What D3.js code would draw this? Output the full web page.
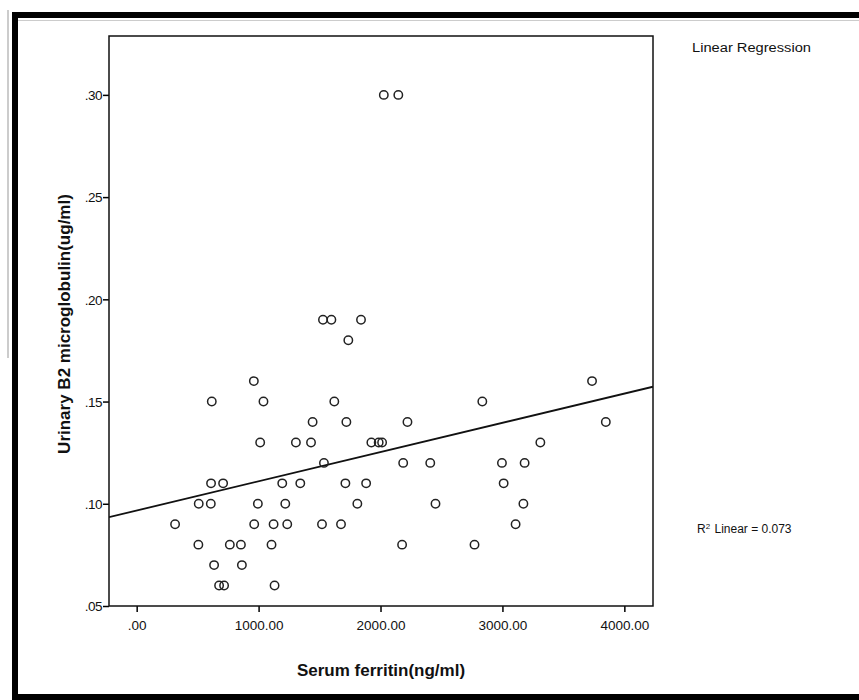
<!DOCTYPE html>
<html>
<head>
<meta charset="utf-8">
<script src="https://cdn.jsdelivr.net/npm/d3@7"></script>
<style>
  body { margin: 0; background: #fff; }
  svg { display: block; font-family: "Liberation Sans", Arial, sans-serif; }
</style>
</head>
<body>
<div id="chart"></div>
<script>
// serum ferritin (ng/ml) and urinary B2 microglobulin (ug/ml)
const ferritin = [
  2027, 2146,
  1528, 1597, 1840,
  1736,
  961, 3735,
  616, 1040, 1621, 2835,
  1443, 1720, 2221, 3848,
  1013, 1306, 1430, 1925, 1985, 2013, 3311,
  1536, 2186, 2408, 2996, 3182,
  610, 709, 1194, 1342, 1712, 1882, 3010,
  509, 608, 994, 1219, 1810, 2451, 3172,
  315, 964, 1123, 1235, 1520, 1676, 3108,
  506, 764, 855, 1106, 2177, 2771,
  635, 863,
  676, 717, 1131
]
const b2micro = [
  .30, .30,
  .19, .19, .19,
  .18,
  .16, .16,
  .15, .15, .15, .15,
  .14, .14, .14, .14,
  .13, .13, .13, .13, .13, .13, .13,
  .12, .12, .12, .12, .12,
  .11, .11, .11, .11, .11, .11, .11,
  .10, .10, .10, .10, .10, .10, .10,
  .09, .09, .09, .09, .09, .09, .09,
  .08, .08, .08, .08, .08, .08,
  .07, .07,
  .06, .06, .06
]
const xTicks = [0, 1000, 2000, 3000, 4000]
const yTicks = [.05, .10, .15, .20, .25, .30]
// fit line as drawn in the figure
const fitIntercept = 0.0967
const fitSlope = 0.0000143
const rSquared = '0.073'

const width = 859, height = 700
const plot = {left: 109, right: 653, top: 36, bottom: 606}

const svg = d3.select('#chart').append('svg')
  .attr('width', width)
  .attr('height', height)

// outer frame of the screenshot
svg.append('line').attr('x1', 8).attr('x2', 8).attr('y1', 10).attr('y2', 358)
  .attr('stroke', '#999').attr('stroke-width', 1)
svg.append('rect').attr('x', 12).attr('y', 12).attr('width', width).attr('height', 6).attr('fill', '#000')
svg.append('rect').attr('x', 12).attr('y', 12).attr('width', 6).attr('height', height).attr('fill', '#000')
svg.append('rect').attr('x', 12).attr('y', 694).attr('width', width).attr('height', 6).attr('fill', '#000')
svg.append('line').attr('x1', 18).attr('x2', width).attr('y1', 20.5).attr('y2', 20.5)
  .attr('stroke', '#ccc').attr('stroke-width', 1)

const x = d3.scaleLinear().domain([-227, 4235]).range([plot.left, plot.right])
const y = d3.scaleLinear().domain([0.05, 0.3288]).range([plot.bottom, plot.top])

const noLeadZero = f => v => d3.format(f)(v).replace(/^0\./, '.')

const xAxis = svg.append('g')
  .attr('transform', `translate(0,${plot.bottom})`)
  .call(d3.axisBottom(x).tickValues(xTicks).tickFormat(noLeadZero('.2f')).tickSize(6).tickSizeOuter(0))
const yAxis = svg.append('g')
  .attr('transform', `translate(${plot.left},0)`)
  .call(d3.axisLeft(y).tickValues(yTicks).tickFormat(noLeadZero('.2f')).tickSize(6).tickSizeOuter(0))

for (let ax of [xAxis, yAxis]) {
  ax.select('.domain').remove()
  ax.selectAll('.tick line').attr('stroke', '#000').attr('stroke-width', 1.5)
  ax.selectAll('.tick text').attr('fill', '#111').style('font-size', '13.5px').style('font-family', '"Liberation Sans", Arial, sans-serif')
}
xAxis.selectAll('.tick text').attr('dy', '1.1em')
yAxis.selectAll('.tick text').attr('x', -7).attr('dy', '0.35em').style('letter-spacing', '-0.5px')

// plot box
svg.append('rect')
  .attr('x', plot.left).attr('y', plot.top)
  .attr('width', plot.right - plot.left).attr('height', plot.bottom - plot.top)
  .attr('fill', 'none').attr('stroke', '#111').attr('stroke-width', 1.5)

// regression line
const clip = svg.append('clipPath').attr('id', 'plotClip').append('rect')
  .attr('x', plot.left).attr('y', plot.top)
  .attr('width', plot.right - plot.left).attr('height', plot.bottom - plot.top)
const xDom = x.domain()
svg.append('line')
  .attr('clip-path', 'url(#plotClip)')
  .attr('x1', x(xDom[0])).attr('y1', y(fitIntercept + fitSlope * xDom[0]))
  .attr('x2', x(xDom[1])).attr('y2', y(fitIntercept + fitSlope * xDom[1]))
  .attr('stroke', '#111').attr('stroke-width', 1.8)

// points
svg.append('g')
  .selectAll('circle')
  .data(ferritin.map((f, i) => ({f: f, b: b2micro[i]})))
  .join('circle')
    .attr('cx', d => x(d.f))
    .attr('cy', d => y(d.b))
    .attr('r', 4.2)
    .attr('fill', 'none')
    .attr('stroke', '#222')
    .attr('stroke-width', 1.5)

// axis titles
svg.append('text')
  .attr('x', (plot.left + plot.right) / 2)
  .attr('y', 676)
  .attr('text-anchor', 'middle')
  .style('font-size', '17px').style('font-weight', 'bold')
  .attr('fill', '#111')
  .text('Serum ferritin(ng/ml)')
svg.append('text')
  .attr('transform', `translate(70,${(plot.top + plot.bottom) / 2 + 3}) rotate(-90)`)
  .attr('text-anchor', 'middle')
  .style('font-size', '17px').style('font-weight', 'bold')
  .attr('fill', '#111')
  .text('Urinary B2 microglobulin(ug/ml)')

// legend texts
svg.append('text')
  .attr('x', 692).attr('y', 52)
  .attr('textLength', 119).attr('lengthAdjust', 'spacingAndGlyphs')
  .style('font-size', '12px')
  .attr('fill', '#111')
  .text('Linear Regression')
const r2 = svg.append('text')
  .attr('x', 697).attr('y', 533)
  .style('font-size', '12px')
  .attr('fill', '#111')
r2.append('tspan').text('R')
r2.append('tspan').attr('dy', -4).style('font-size', '8px').text('2')
r2.append('tspan').attr('dy', 4).attr('dx', 1).text(' Linear = ' + rSquared)
</script>
</body>
</html>
